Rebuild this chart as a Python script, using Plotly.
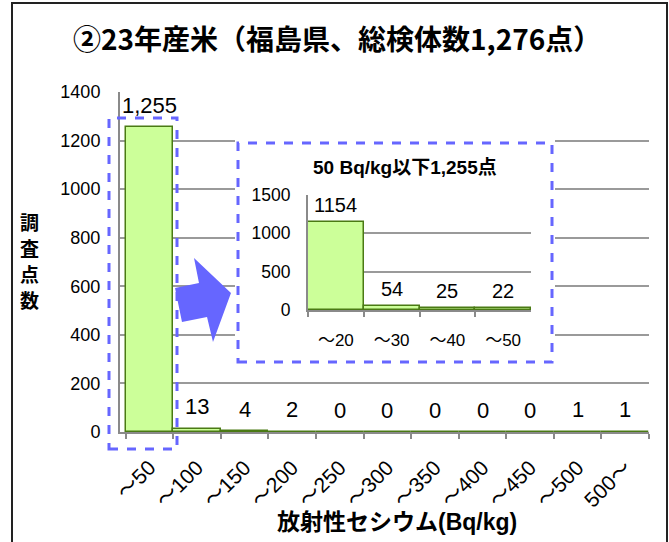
import plotly.graph_objects as go

# ---------------- data ----------------
categories = ["～50", "～100", "～150", "～200", "～250", "～300",
              "～350", "～400", "～450", "～500", "500～"]
counts = [1255, 13, 4, 2, 0, 0, 0, 0, 0, 1, 1]
count_labels = ["1,255", "13", "4", "2", "0", "0", "0", "0", "0", "1", "1"]

inset_categories = ["～20", "～30", "～40", "～50"]
inset_counts = [1154, 54, 25, 22]
inset_labels = ["1154", "54", "25", "22"]

title_text = "②23年産米（福島県、総検体数1,276点）"
inset_title = "50 Bq/kg以下1,255点"
x_title = "放射性セシウム(Bq/kg)"
y_title = "調査点数"

# ---------------- layout geometry (pixels) ----------------
W, H = 669, 542
L, R, T, B = 120, 20, 92, 110
PW, PH = W - L - R, H - T - B

def px(xp):
    return (xp - L) / PW

def py(yp):
    return (H - B - yp) / PH

FONT = "Liberation Sans, Arial, Noto Sans CJK JP, sans-serif"
JFONT = "Noto Sans CJK JP, Liberation Sans, sans-serif"
BAR_FILL = "#CCFF99"
BAR_LINE = "#4A7A14"
GRID = "#9a9a9a"
AXIS = "#8a8a8a"
BLUE = "#6666FF"

fig = go.Figure()

fig.add_trace(go.Bar(
    x=categories, y=counts, xaxis="x", yaxis="y",
    marker=dict(color=BAR_FILL, line=dict(color=BAR_LINE, width=1.5)),
    showlegend=False, hoverinfo="skip"))

fig.add_trace(go.Bar(
    x=inset_categories, y=inset_counts, xaxis="x3", yaxis="y3",
    marker=dict(color=BAR_FILL, line=dict(color=BAR_LINE, width=1.5)),
    showlegend=False, hoverinfo="skip"))

annotations = []
for c, v, t in zip(categories, counts, count_labels):
    annotations.append(dict(x=c, y=v, xref="x", yref="y", text=t, showarrow=False,
                            yanchor="middle", yshift=22,
                            font=dict(family=FONT, size=22, color="black")))
for c, v, t in zip(inset_categories, inset_counts, inset_labels):
    annotations.append(dict(x=c, y=v, xref="x3", yref="y3", text=t, showarrow=False,
                            yanchor="middle", yshift=17,
                            font=dict(family=FONT, size=20, color="black")))

annotations += [
    dict(x=px(337), y=py(38), xref="paper", yref="paper", text="<b>" + title_text + "</b>",
         showarrow=False, xanchor="center", yanchor="middle",
         font=dict(family=JFONT, size=28, color="black")),
    dict(x=px(405), y=py(167), xref="paper", yref="paper", text="<b>" + inset_title + "</b>",
         showarrow=False, xanchor="center", yanchor="middle",
         font=dict(family=FONT, size=19, color="black")),
    dict(x=px(397), y=py(522), xref="paper", yref="paper", text="<b>" + x_title + "</b>",
         showarrow=False, xanchor="center", yanchor="middle",
         font=dict(family=FONT, size=23, color="black")),
]
# vertical (stacked) y-axis title, one character per line
for i, ch in enumerate(y_title):
    annotations.append(dict(x=px(29), y=py(221 + 26 * i), xref="paper", yref="paper",
                            text="<b>" + ch + "</b>", showarrow=False,
                            xanchor="center", yanchor="middle",
                            font=dict(family=JFONT, size=19, color="black")))

# inset background subplot (x2/y2) geometry
ix0, ix1, iy0, iy1 = 235, 555, 140, 365
rx0, rx1, ry0, ry1 = 238, 552, 143, 362

def ipx(xp):
    return (xp - ix0) / (ix1 - ix0)

def ipy(yp):
    return (iy1 - yp) / (iy1 - iy0)

arrow_pts = [(175, 288), (199, 283), (194, 258), (231, 293), (213, 342), (207, 317), (182, 322)]
arrow_path = "M " + " L ".join(f"{px(a):.4f},{py(b):.4f}" for a, b in arrow_pts) + " Z"

shapes = [
    # white inset panel with dashed border (in the x2y2 background subplot)
    dict(type="rect", xref="x2", yref="y2", x0=ipx(rx0), x1=ipx(rx1), y0=ipy(ry1), y1=ipy(ry0),
         fillcolor="white", line=dict(color=BLUE, width=3, dash="dash"), layer="below"),
    # arrow
    dict(type="path", xref="paper", yref="paper", path=arrow_path,
         fillcolor=BLUE, line=dict(width=0), layer="above"),
    # dashed box around first bar
    dict(type="rect", xref="paper", yref="paper", x0=px(109), x1=px(177), y0=py(449), y1=py(118),
         fillcolor="rgba(0,0,0,0)", line=dict(color=BLUE, width=3, dash="dash"), layer="above"),
    # outer frame
    dict(type="rect", xref="paper", yref="paper", x0=px(12), x1=px(667), y0=py(560), y1=py(3),
         fillcolor="rgba(0,0,0,0)", line=dict(color="#222222", width=2), layer="above"),
]

fig.update_layout(
    width=W, height=H,
    margin=dict(l=L, r=R, t=T, b=B, pad=0),
    paper_bgcolor="white", plot_bgcolor="white",
    bargap=0,
    showlegend=False,
    annotations=annotations,
    shapes=shapes,
    xaxis=dict(domain=[0, 1], anchor="y", type="category",
               showline=True, linecolor=AXIS, linewidth=2,
               ticks="outside", tickson="boundaries", ticklen=5, tickcolor=AXIS, tickwidth=1.5,
               tickangle=-45, ticklabelstandoff=13,
               tickfont=dict(family=FONT, size=21, color="black"),
               showgrid=False, fixedrange=True),
    yaxis=dict(domain=[0, 1], anchor="x", range=[0, 1400], dtick=200,
               showline=True, linecolor=AXIS, linewidth=2,
               showgrid=True, gridcolor=GRID, gridwidth=1.5, zeroline=False,
               ticks="", ticklabelstandoff=14,
               tickfont=dict(family=FONT, size=18, color="black"), fixedrange=True),
    xaxis2=dict(domain=[px(ix0), px(ix1)], anchor="y2", range=[0, 1], visible=False, fixedrange=True),
    yaxis2=dict(domain=[py(iy1), py(iy0)], anchor="x2", range=[0, 1], visible=False, fixedrange=True),
    xaxis3=dict(domain=[px(308), px(531)], anchor="y3", type="category",
                showline=True, linecolor=AXIS, linewidth=2,
                ticks="outside", tickson="boundaries", ticklen=5, tickcolor=AXIS, tickwidth=1.5,
                tickangle=0, ticklabelstandoff=14,
                tickfont=dict(family=FONT, size=17, color="black"),
                showgrid=False, fixedrange=True),
    yaxis3=dict(domain=[py(310), py(195)], anchor="x3", range=[0, 1500], dtick=500,
                showline=True, linecolor=AXIS, linewidth=2,
                showgrid=True, gridcolor=GRID, gridwidth=1.5, zeroline=False,
                ticks="", ticklabelstandoff=12,
                tickfont=dict(family=FONT, size=17.5, color="black"), fixedrange=True),
)

fig.write_html("out.html", config={"displayModeBar": False},
               post_script="document.body.style.margin='0';")
